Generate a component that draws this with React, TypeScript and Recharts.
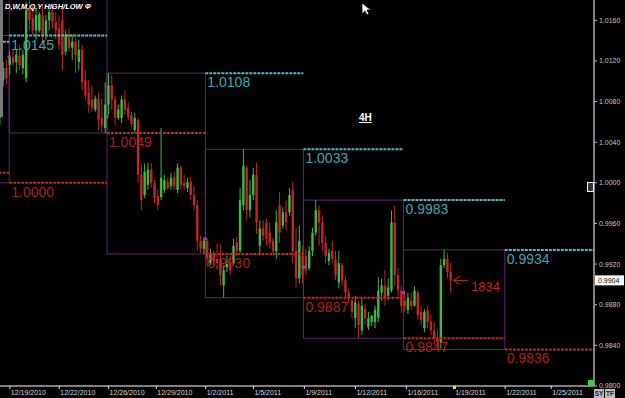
import React from "react";
import {
  ComposedChart, Bar, XAxis, YAxis,
  ReferenceArea, ReferenceLine, ReferenceDot
} from "recharts";

// 4H candles (slot = bar index)
const OPEN = [
  1.0064, 1.0101, 1.0113, 1.0116, 1.0124, 1.0119, 1.0125, 1.0113, 1.0103, 1.0170,
  1.0162, 1.0150, 1.0150, 1.0165, 1.0146, 1.0160, 1.0168, 1.0158, 1.0152, 1.0160,
  1.0129, 1.0146, 1.0133, 1.0139, 1.0119, 1.0131, 1.0101, 1.0089, 1.0082, 1.0072,
  1.0083, 1.0064, 1.0054, 1.0077, 1.0096, 1.0082, 1.0064, 1.0064, 1.0082, 1.0074,
  1.0067, 1.0052, 1.0062, 1.0008, 0.9988, 0.9998, 1.0013, 1.0000, 0.9987, 0.9986,
  0.9993, 1.0001, 0.9997, 1.0005, 0.9993, 1.0015, 1.0000, 0.9995, 1.0001, 0.9988,
  0.9978, 0.9943, 0.9935, 0.9943, 0.9921, 0.9931, 0.9925, 0.9925, 0.9899, 0.9917,
  0.9921, 0.9921, 0.9941, 0.9933, 0.9978, 1.0015, 0.9973, 0.9988, 1.0008, 0.9938,
  0.9955, 0.9961, 0.9951, 0.9943, 0.9933, 0.9978, 0.9958, 0.9971, 0.9971, 0.9993,
  0.9933, 0.9906, 0.9928, 0.9928, 0.9916, 0.9933, 0.9951, 0.9973, 0.9961, 0.9941,
  0.9923, 0.9933, 0.9925, 0.9902, 0.9919, 0.9904, 0.9892, 0.9884, 0.9867, 0.9881,
  0.9855, 0.9876, 0.9858, 0.9863, 0.9863, 0.9867, 0.9892, 0.9899, 0.9889, 0.9894,
  0.9961, 0.9909, 0.9894, 0.9884, 0.9875, 0.9884, 0.9879, 0.9892, 0.9873, 0.9857,
  0.9875, 0.9863, 0.9855, 0.9847, 0.9843, 0.9919, 0.9925, 0.9912,
];
const HIGH = [
  1.0107, 1.0119, 1.0121, 1.0129, 1.0131, 1.0131, 1.0136, 1.0131, 1.0178, 1.0180,
  1.0175, 1.0170, 1.0168, 1.0175, 1.0165, 1.0172, 1.0176, 1.0168, 1.0165, 1.0173,
  1.0150, 1.0152, 1.0146, 1.0143, 1.0141, 1.0136, 1.0111, 1.0101, 1.0096, 1.0086,
  1.0089, 1.0083, 1.0099, 1.0108, 1.0106, 1.0086, 1.0077, 1.0086, 1.0091, 1.0079,
  1.0070, 1.0069, 1.0064, 1.0019, 1.0019, 1.0020, 1.0020, 1.0003, 0.9993, 1.0054,
  1.0008, 1.0005, 1.0010, 1.0011, 1.0019, 1.0017, 1.0008, 1.0005, 1.0006, 0.9997,
  0.9983, 0.9948, 0.9946, 0.9945, 0.9935, 0.9933, 0.9940, 0.9940, 0.9919, 0.9928,
  0.9928, 0.9945, 0.9947, 0.9995, 1.0033, 1.0017, 1.0003, 1.0015, 1.0020, 0.9963,
  0.9963, 0.9965, 0.9961, 0.9946, 0.9973, 0.9991, 0.9976, 0.9983, 0.9995, 1.0001,
  0.9956, 0.9958, 0.9938, 0.9935, 0.9938, 0.9956, 0.9983, 0.9978, 0.9968, 0.9948,
  0.9935, 0.9943, 0.9933, 0.9933, 0.9921, 0.9909, 0.9896, 0.9886, 0.9889, 0.9884,
  0.9887, 0.9881, 0.9873, 0.9870, 0.9879, 0.9907, 0.9906, 0.9914, 0.9906, 0.9973,
  0.9978, 0.9916, 0.9899, 0.9894, 0.9892, 0.9892, 0.9898, 0.9894, 0.9879, 0.9876,
  0.9879, 0.9870, 0.9863, 0.9855, 0.9925, 0.9934, 0.9931, 0.9921,
];
const LOW = [
  1.0057, 1.0095, 1.0097, 1.0106, 1.0115, 1.0108, 1.0111, 1.0107, 1.0099, 1.0150,
  1.0146, 1.0141, 1.0148, 1.0136, 1.0141, 1.0150, 1.0152, 1.0141, 1.0131, 1.0111,
  1.0126, 1.0129, 1.0121, 1.0108, 1.0111, 1.0091, 1.0082, 1.0069, 1.0070, 1.0070,
  1.0052, 1.0050, 1.0049, 1.0067, 1.0072, 1.0057, 1.0062, 1.0059, 1.0067, 1.0062,
  1.0055, 1.0049, 1.0000, 0.9973, 0.9985, 0.9993, 0.9995, 0.9980, 0.9973, 0.9983,
  0.9990, 0.9993, 0.9993, 0.9993, 0.9990, 0.9993, 0.9993, 0.9991, 0.9983, 0.9973,
  0.9933, 0.9931, 0.9930, 0.9917, 0.9919, 0.9919, 0.9914, 0.9899, 0.9887, 0.9912,
  0.9909, 0.9919, 0.9928, 0.9931, 0.9973, 0.9963, 0.9966, 0.9983, 0.9950, 0.9930,
  0.9943, 0.9938, 0.9935, 0.9930, 0.9925, 0.9941, 0.9955, 0.9953, 0.9968, 0.9921,
  0.9897, 0.9901, 0.9901, 0.9909, 0.9914, 0.9928, 0.9948, 0.9938, 0.9933, 0.9921,
  0.9919, 0.9921, 0.9904, 0.9896, 0.9899, 0.9886, 0.9882, 0.9867, 0.9857, 0.9847,
  0.9850, 0.9860, 0.9855, 0.9859, 0.9857, 0.9863, 0.9884, 0.9879, 0.9884, 0.9892,
  0.9899, 0.9889, 0.9872, 0.9873, 0.9871, 0.9875, 0.9878, 0.9865, 0.9860, 0.9853,
  0.9857, 0.9850, 0.9840, 0.9836, 0.9837, 0.9916, 0.9906, 0.9892,
];
const CLOSE = [
  1.0101, 1.0113, 1.0103, 1.0124, 1.0118, 1.0126, 1.0116, 1.0126, 1.0170, 1.0160,
  1.0150, 1.0165, 1.0166, 1.0146, 1.0160, 1.0168, 1.0158, 1.0150, 1.0136, 1.0126,
  1.0146, 1.0133, 1.0139, 1.0126, 1.0131, 1.0099, 1.0086, 1.0077, 1.0074, 1.0083,
  1.0062, 1.0057, 1.0077, 1.0096, 1.0082, 1.0064, 1.0072, 1.0082, 1.0072, 1.0065,
  1.0058, 1.0064, 1.0008, 0.9983, 1.0011, 1.0013, 1.0000, 0.9985, 0.9978, 1.0005,
  1.0003, 0.9995, 1.0005, 0.9997, 1.0015, 0.9998, 0.9997, 1.0001, 0.9988, 0.9978,
  0.9943, 0.9935, 0.9943, 0.9925, 0.9931, 0.9923, 0.9921, 0.9909, 0.9914, 0.9920,
  0.9914, 0.9938, 0.9933, 0.9983, 1.0017, 0.9973, 0.9988, 1.0008, 0.9961, 0.9955,
  0.9948, 0.9945, 0.9941, 0.9933, 0.9961, 0.9951, 0.9971, 0.9961, 0.9988, 0.9933,
  0.9906, 0.9943, 0.9909, 0.9914, 0.9933, 0.9951, 0.9973, 0.9961, 0.9941, 0.9928,
  0.9931, 0.9925, 0.9909, 0.9921, 0.9904, 0.9892, 0.9886, 0.9873, 0.9882, 0.9860,
  0.9879, 0.9867, 0.9867, 0.9869, 0.9875, 0.9894, 0.9899, 0.9886, 0.9897, 0.9961,
  0.9909, 0.9894, 0.9879, 0.9878, 0.9887, 0.9879, 0.9894, 0.9870, 0.9865, 0.9873,
  0.9863, 0.9855, 0.9847, 0.9843, 0.9919, 0.9925, 0.9912, 0.9904,
];

// weeks: W0 (partial) .. W6 (future), in bar slots
const WEEK_START = [-4, 2.8, 32.5, 62.4, 92.2, 122.6, 153.4];
const WEEK_END = [2.8, 32.5, 62.4, 92.2, 122.6, 153.4, 180.5];
const WEEK_HIGH = [1.0145, 1.0195, 1.0108, 1.0033, 0.9983, 0.9934];
const WEEK_LOW = [1.0000, 1.0049, 0.9930, 0.9887, 0.9847, 0.9836];
const WEEK_OPEN = [1.0124, 1.0065, 0.9945, 0.9917, 0.9892];
// previous week's high / low drawn over each week
const PREV_HIGH = [1.0139, 1.0145, 1.0195, 1.0108, 1.0033, 0.9983, 0.9934];
const PREV_LOW = [1.0010, 1.0000, 1.0049, 0.9930, 0.9887, 0.9847, 0.9836];

const DATE_SLOTS = [3, 18, 33, 47.5, 62.5, 77, 92.5, 108, 123.5, 138, 153.5, 167.5];
const DATE_LABELS = [
  "12/19/2010", "12/22/2010", "12/26/2010", "12/29/2010", "1/2/2011", "1/5/2011",
  "1/9/2011", "1/12/2011", "1/16/2011", "1/19/2011", "1/22/2011", "1/25/2011",
];
const PRICE_TICKS = [0.98, 0.984, 0.988, 0.992, 0.996, 1.0, 1.004, 1.008, 1.012, 1.016];
const LAST_PRICE = 0.9904;
const NOTE = "1834";

const GREEN = "#3fb83f";
const RED = "#c02626";
const CYAN = "#49bcc6";
const PURPLE = "#5e2a6c";
const FONT = "'Liberation Sans', Arial, sans-serif";

const candles = OPEN.map((o, i) => ({
  i, o, h: HIGH[i], l: LOW[i], c: CLOSE[i], range: [LOW[i], HIGH[i]],
}));

const Candle = (props: any) => {
  const { x, y, width, height, payload } = props;
  if (!payload) return null;
  const top = Math.min(y, y + height);
  const bot = Math.max(y, y + height);
  const { o, h, l, c } = payload;
  const span = h - l || 1;
  const py = (v: number) => top + ((h - v) / span) * (bot - top);
  const cx = x + width / 2;
  const color = c >= o ? GREEN : RED;
  const b1 = py(Math.max(o, c));
  const b2 = py(Math.min(o, c));
  return (
    <g>
      <line x1={cx} x2={cx} y1={top} y2={bot} stroke={color} strokeWidth={1} />
      <rect x={cx - 1.2} y={b1} width={2.4} height={Math.max(1, b2 - b1)} fill={color} />
    </g>
  );
};

const DateTick = (props: any) => {
  const { x, y, payload } = props;
  const idx = DATE_SLOTS.indexOf(payload.value);
  return (
    <g>
      <line x1={x} x2={x} y1={y} y2={y + 3} stroke="#ddd" />
      <text x={x + 1} y={y + 9} fontSize={7} fill="#d8d8d8" fontFamily={FONT}>
        {DATE_LABELS[idx]}
      </text>
    </g>
  );
};

const levelLabel = (value: number, color: string) => (p: any) => (
  <text x={p.cx + 2} y={p.cy + 14} fontSize={14} fill={color} fillOpacity={0.9} fontFamily={FONT}>
    {value.toFixed(4)}
  </text>
);

const PriceBox = (p: any) => (
  <g>
    <rect x={p.cx + 1} y={p.cy - 5} width={29} height={10} fill="#fff" />
    <text x={p.cx + 4} y={p.cy + 3} fontSize={7} fill="#000" fontFamily={FONT}>
      {LAST_PRICE.toFixed(4)}
    </text>
  </g>
);

const NoteArrow = (p: any) => (
  <g stroke={RED} strokeWidth={1} fill="none">
    <line x1={p.cx} x2={p.cx + 15} y1={p.cy} y2={p.cy} />
    <line x1={p.cx} x2={p.cx + 7} y1={p.cy} y2={p.cy - 4} />
    <line x1={p.cx} x2={p.cx + 7} y1={p.cy} y2={p.cy + 4} />
    <text x={p.cx + 18} y={p.cy + 11} fontSize={13} fill={RED} stroke="none" fontFamily={FONT}>
      {NOTE}
    </text>
  </g>
);

export default function App() {
  return (
    <div style={{ position: "absolute", left: 0, top: 0, width: 625, height: 398, background: "#000", overflow: "hidden", fontFamily: FONT }}>
      <ComposedChart width={625} height={398} data={candles} margin={{ top: 0, right: 0, bottom: 0, left: 0 }}>
        <XAxis
          type="number" dataKey="i" domain={[0, 180.5]} allowDataOverflow
          ticks={DATE_SLOTS} interval={0} tick={<DateTick />}
          tickLine={false} tickSize={0} tickMargin={0}
          axisLine={{ stroke: "#fff" }} height={12}
        />
        <YAxis
          orientation="right" domain={[0.98, 1.018]} allowDataOverflow
          ticks={PRICE_TICKS} interval={0} width={31}
          tickFormatter={(v: number) => v.toFixed(4)}
          tick={{ fill: "#c4c4c4", fontSize: 7, fontFamily: FONT }}
          tickLine={{ stroke: "#bbb" }} tickSize={3} tickMargin={2}
          axisLine={{ stroke: "#fff" }}
        />
        <Bar dataKey="range" barSize={3} shape={<Candle />} isAnimationActive={false} />

        {WEEK_HIGH.map((hi, w) => (
          <ReferenceArea
            key={`box-${w}`} x1={WEEK_START[w]} x2={WEEK_END[w]} y1={WEEK_LOW[w]} y2={hi}
            fill="none" stroke={PURPLE} strokeWidth={1} ifOverflow="hidden"
          />
        ))}
        {PREV_HIGH.map((v, w) => (
          <ReferenceLine
            key={`ph-${w}`} segment={[{ x: WEEK_START[w], y: v }, { x: WEEK_END[w], y: v }]}
            stroke={CYAN} strokeWidth={2} strokeDasharray="3 1" ifOverflow="hidden"
          />
        ))}
        {PREV_LOW.map((v, w) => (
          <ReferenceLine
            key={`pl-${w}`} segment={[{ x: WEEK_START[w], y: v }, { x: WEEK_END[w], y: v }]}
            stroke={RED} strokeWidth={2} strokeDasharray="3 1" ifOverflow="hidden"
          />
        ))}
        {PREV_HIGH.map((v, w) => w > 0 && (
          <ReferenceDot key={`phl-${w}`} x={WEEK_START[w]} y={v} r={0} shape={levelLabel(v, CYAN)} />
        ))}
        {PREV_LOW.map((v, w) => w > 0 && (
          <ReferenceDot key={`pll-${w}`} x={WEEK_START[w]} y={v} r={0} shape={levelLabel(v, RED)} />
        ))}
        {WEEK_OPEN.map((v, w) => (
          <ReferenceDot key={`wo-${w}`} x={WEEK_START[w + 1]} y={v} r={1.8} fill="#a23cc0" stroke="none" />
        ))}
        <ReferenceDot x={137.7} y={LAST_PRICE} r={0} shape={NoteArrow} />
        <ReferenceDot x={180.5} y={LAST_PRICE} r={0} shape={PriceBox} ifOverflow="visible" />
      </ComposedChart>

      {/* chart chrome */}
      <div style={{ position: "absolute", left: 0, top: 0, width: 3, height: 117, background: "#7a7a7a" }} />
      <div style={{ position: "absolute", left: 5, top: 2, color: "#fff", fontSize: 7.5, fontWeight: 700, fontStyle: "italic", whiteSpace: "nowrap" }}>
        D,W,M,Q,Y HIGH/LOW Φ
      </div>
      <div style={{ position: "absolute", left: 359, top: 112, color: "#fff", fontSize: 10, fontWeight: 700, textDecoration: "underline" }}>
        4H
      </div>
      <svg style={{ position: "absolute", left: 361, top: 2 }} width={12} height={15}>
        <path d="M1,1 L1,12 L4,9 L6,13 L8,12 L6,8 L10,8 Z" fill="#fff" stroke="#000" strokeWidth={0.8} />
      </svg>
      <div style={{ position: "absolute", left: 587, top: 182, width: 5, height: 8, border: "1px solid #fff", background: "#333" }} />
      <div style={{ position: "absolute", left: 588, top: 380, width: 6, height: 6, background: "#22e022" }} />
      <div style={{ position: "absolute", left: 453, top: 386, width: 3, height: 3, background: "#e8e040" }} />
      <div style={{ position: "absolute", left: 594, top: 389, width: 10, height: 9, background: "#bbb", color: "#222", fontSize: 6.5, fontWeight: 700, lineHeight: "9px", textAlign: "center" }}>SY</div>
      <div style={{ position: "absolute", left: 605, top: 389, width: 10, height: 9, background: "#bbb", color: "#222", fontSize: 6.5, fontWeight: 700, lineHeight: "9px", textAlign: "center" }}>TF</div>
    </div>
  );
}
